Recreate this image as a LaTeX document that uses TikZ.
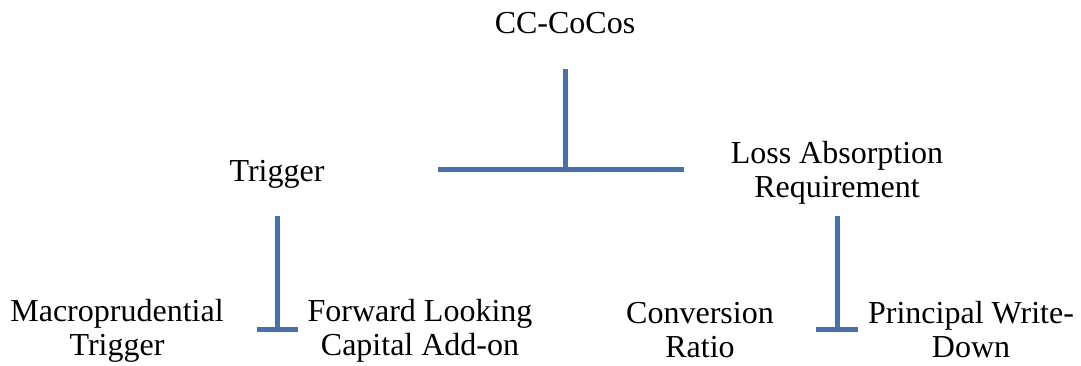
\documentclass[tikz,border=0pt]{standalone}
\usepackage{fontspec}
\setmainfont{Liberation Serif}
\definecolor{barblue}{HTML}{4672AA}
\begin{document}
\begin{tikzpicture}[x=1pt,y=-1pt,
  lbl/.style={font=\fontsize{32}{34}\selectfont, align=center, inner sep=0pt, text=black},
  bar/.style={draw=barblue, line width=5pt}]
\useasboundingbox (0,0) rectangle (1081,366);
\node[lbl] (root) at (565,23) {CC-CoCos};
\node[lbl] (trig) at (277,174) {Trigger};
\node[lbl] (loss) at (837,173) {Loss Absorption\\Requirement};
\node[lbl] (macro) at (117,331) {Macroprudential\\Trigger};
\node[lbl] (fwd) at (420,331) {Forward Looking\\Capital Add-on};
\node[lbl] (conv) at (700,330) {Conversion\\Ratio};
\node[lbl] (pwd) at (971,330) {Principal Write-\\Down};
% connector coordinates
\coordinate (rtop) at (565,69);
\coordinate (rmid) at (565,170);
\coordinate (rl) at (438,170);
\coordinate (rr) at (684,170);
\coordinate (ttop) at (277,216);
\coordinate (tbot) at (277,329);
\coordinate (tl) at (257,329);
\coordinate (tr) at (298,329);
\coordinate (ltop) at (837,216);
\coordinate (lbot) at (837,329);
\coordinate (ll) at (816,329);
\coordinate (lr) at (858,329);
\draw[bar] (rtop) -- (rmid);
\draw[bar] (rl) -- (rr);
\draw[bar] (ttop) -- (tbot);
\draw[bar] (tl) -- (tr);
\draw[bar] (ltop) -- (lbot);
\draw[bar] (ll) -- (lr);
\end{tikzpicture}
\end{document}
